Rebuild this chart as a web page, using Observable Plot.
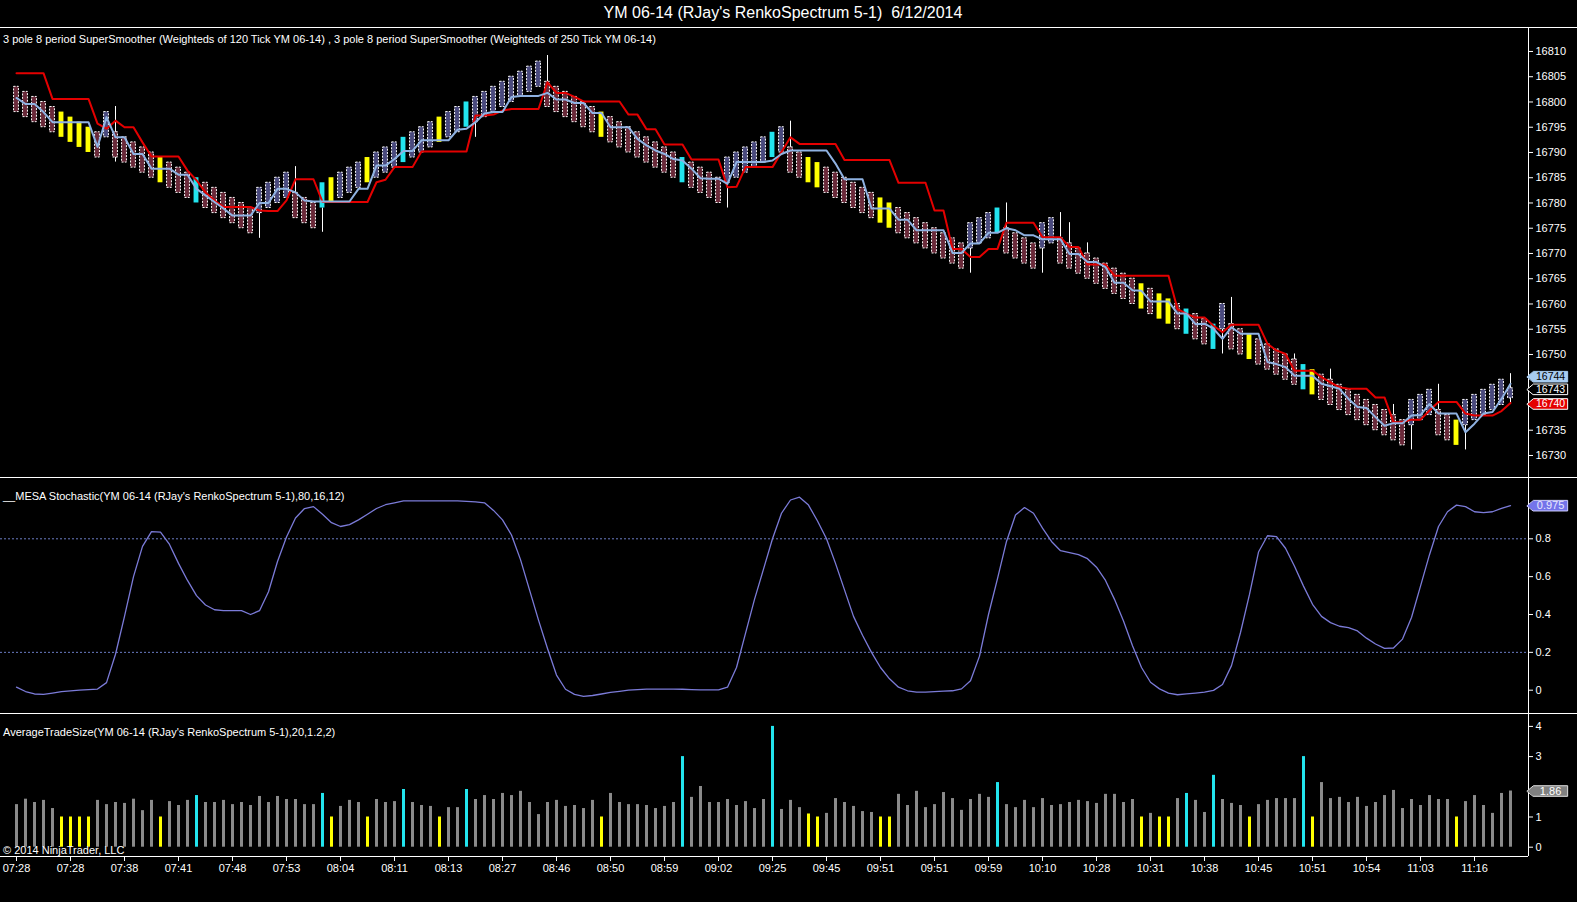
<!DOCTYPE html>
<html><head><meta charset="utf-8">
<script src="https://cdn.jsdelivr.net/npm/d3@7"></script>
<script src="https://cdn.jsdelivr.net/npm/@observablehq/plot@0.6"></script>
<style>
html,body{margin:0;padding:0;background:#000;}
#c{position:relative;width:1577px;height:902px;background:#000;overflow:hidden;font-family:"Liberation Sans",Arial,Helvetica,sans-serif;color:#fff;}
.t{position:absolute;white-space:pre;color:#fff;}
.sep{position:absolute;left:0;width:1577px;height:1px;background:#fff;}
svg{display:block;}
</style></head><body><div id="c"></div>
<script>
// ---------------- DATA ----------------
const chartTitle = "YM 06-14 (RJay's RenkoSpectrum 5-1)  6/12/2014";
const priceLabel = "3 pole 8 period SuperSmoother (Weighteds of 120 Tick YM 06-14) , 3 pole 8 period SuperSmoother (Weighteds of 250 Tick YM 06-14)";
const stochLabel = "__MESA Stochastic(YM 06-14 (RJay's RenkoSpectrum 5-1),80,16,12)";
const tradeLabel = "AverageTradeSize(YM 06-14 (RJay's RenkoSpectrum 5-1),20,1.2,2)";
const copyright = "© 2014 NinjaTrader, LLC";

const timeLabels = ["07:28","07:28","07:38","07:41","07:48","07:53","08:04","08:11","08:13","08:27","08:46","08:50","08:59","09:02","09:25","09:45","09:51","09:51","09:59","10:10","10:28","10:31","10:38","10:45","10:51","10:54","11:03","11:16"];
const tickBars = [0,6,12,18,24,30,36,42,48,54,60,66,72,78,84,90,96,102,108,114,120,126,132,138,144,150,156,162];

// tick labels hidden behind the last-value badges in the original are left out
const priceTicks = [16730,16735,16750,16755,16760,16765,16770,16775,16780,16785,16790,16795,16800,16805,16810];
const stochTicks = [0,0.2,0.4,0.6,0.8];
const stochLevels = [0.2,0.8];
const tradeTicks = [0,1,3,4];

const brickSize = 5;
const lastBrickLow = 16741.3;
const brickTop = [
16803,16802,16801,16800,16799,16798,16797,16796,16795,16794,
16798,16794,16793,16792,16791,16790,16789,16788,16787,16786,
16785,16784,16783,16782,16781,16780,16779,16783,16784,16785,
16786,16782,16781,16780,16784,16785,16786,16787,16788,16789,
16790,16791,16792,16793,16794,16795,16796,16797,16798,16799,
16800,16801,16802,16803,16804,16805,16806,16807,16808,16804,
16803,16802,16801,16800,16799,16798,16797,16796,16795,16794,
16793,16792,16791,16790,16789,16788,16787,16786,16785,16789,
16790,16791,16792,16793,16794,16795,16791,16790,16789,16788,
16787,16786,16785,16784,16783,16782,16781,16780,16779,16778,
16777,16776,16775,16774,16773,16772,16776,16777,16778,16779,
16775,16774,16773,16772,16776,16777,16773,16772,16771,16770,
16769,16768,16767,16766,16765,16764,16763,16762,16761,16760,
16759,16758,16757,16756,16760,16756,16755,16754,16753,16752,
16751,16750,16749,16748,16747,16746,16745,16744,16743,16742,
16741,16740,16739,16738,16737,16741,16742,16743,16739,16738,
16737,16741,16742,16743,16744,16745,16743.3];

// d = down brick, u = up brick, y = low-volume (yellow), c = high-volume (cyan)
const barKind = [
"d","d","d","d","d","y","y","y","y","d",
"u","d","d","d","d","d","y","d","d","d",
"c","d","d","d","d","d","d","u","u","u",
"u","d","d","d","c","y","u","u","u","y",
"u","u","u","c","u","u","u","y","u","u",
"c","u","u","u","u","u","u","u","u","d",
"d","d","d","d","d","y","d","d","d","d",
"d","d","d","d","c","d","d","d","d","u",
"u","u","u","u","c","u","d","d","y","y",
"d","d","d","d","d","d","y","y","d","d",
"d","d","d","d","d","d","u","u","u","c",
"d","d","d","d","u","u","d","d","d","d",
"d","d","d","d","d","y","d","y","y","d",
"c","d","d","c","u","d","d","y","d","d",
"d","d","d","c","y","d","d","d","d","d",
"d","d","d","d","d","u","u","u","d","d",
"y","u","u","u","u","u","u"];

const wickBar  = [11,27,31,34,51,59,79,86,106,110,114,116,117,119,134,135,142,146,153,155,158,161,166];
const wickLow  = [16788.1,16773.0,16782,16774.2,16793,16804,16779,16791,16766.1,16775,16766.1,16773,16772,16770,16750.1,16756,16749,16745,16738,16731.1,16739,16731.1,16740.4];
const wickHigh = [16799.1,16778,16787.2,16779,16796,16809.2,16784,16796.2,16771,16780,16771,16778.1,16776.1,16772.1,16755,16761.3,16750.1,16747.1,16740.1,16736,16744.1,16736,16746.2];

const smoother120 = [
16800.8,16799.6,16799.6,16798.0,16796.0,16796.0,16796.0,16796.0,16796.0,16791.1,
16797.0,16793.0,16793.0,16789.7,16789.7,16786.8,16786.8,16786.8,16785.6,16785.6,
16782.8,16781.5,16780.2,16778.9,16777.5,16777.5,16777.5,16780.0,16780.0,16782.8,
16782.8,16782.1,16780.5,16780.3,16780.3,16780.3,16780.3,16780.3,16782.8,16782.8,
16787.4,16787.4,16788.7,16790.3,16790.3,16792.4,16792.4,16792.4,16792.4,16794.5,
16794.7,16796.0,16797.7,16798.0,16798.0,16801.0,16801.2,16801.2,16801.2,16801.8,
16800.5,16800.5,16799.8,16799.8,16797.8,16797.8,16795.0,16795.0,16795.0,16792.7,
16791.4,16790.4,16789.7,16788.7,16788.4,16786.8,16784.9,16784.8,16784.8,16783.8,
16788.1,16788.1,16788.1,16788.1,16788.4,16789.7,16790.4,16790.4,16790.4,16790.4,
16790.4,16787.8,16784.7,16784.7,16784.7,16778.9,16778.9,16778.9,16776.7,16776.7,
16774.6,16774.6,16774.6,16774.6,16770.1,16770.1,16772.0,16772.0,16774.1,16774.1,
16775.0,16774.6,16773.6,16773.6,16772.8,16772.8,16772.8,16769.9,16769.9,16768.3,
16768.3,16767.3,16764.2,16764.2,16762.7,16762.6,16760.5,16760.5,16760.5,16758.1,
16758.1,16756.0,16756.1,16755.1,16753.1,16755.4,16754.1,16754.1,16754.1,16748.5,
16748.1,16747.5,16745.8,16745.8,16745.8,16744.2,16743.7,16743.2,16741.2,16739.6,
16739.4,16737.6,16735.9,16736.4,16736.4,16737.9,16738.0,16740.2,16738.3,16738.3,
16738.3,16734.6,16736.3,16738.3,16738.6,16741.2,16744.2];

const smoother250 = [
16805.7,16805.7,16805.7,16805.7,16800.6,16800.6,16800.6,16800.6,16800.6,16795.7,
16794.7,16796.3,16795.0,16795.0,16792.0,16789.2,16789.2,16789.2,16789.2,16786.4,
16784.5,16782.1,16780.5,16779.2,16779.2,16779.2,16779.2,16778.5,16778.4,16778.4,
16780.5,16784.7,16784.7,16784.7,16780.2,16780.2,16780.2,16780.2,16780.2,16780.2,
16784.1,16784.6,16787.1,16787.1,16787.1,16790.2,16790.2,16790.2,16790.2,16790.2,
16790.2,16797.3,16797.3,16797.5,16798.3,16798.6,16798.6,16798.6,16798.6,16803.9,
16801.8,16801.8,16801.0,16800.1,16800.1,16800.1,16800.1,16800.1,16797.5,16797.5,
16794.6,16794.6,16791.6,16791.6,16791.6,16788.6,16788.6,16788.6,16788.6,16783.1,
16783.2,16787.1,16787.1,16787.1,16787.1,16790.1,16793.0,16791.7,16791.7,16791.7,
16791.7,16791.7,16788.5,16788.5,16788.5,16788.5,16788.5,16788.5,16784.0,16784.0,
16784.0,16784.0,16778.5,16778.5,16770.9,16770.9,16769.3,16769.3,16770.9,16770.9,
16776.1,16776.1,16776.1,16776.1,16773.2,16773.2,16773.2,16771.3,16771.3,16767.8,
16767.8,16767.8,16765.6,16765.6,16765.6,16765.6,16765.6,16765.6,16765.6,16759.0,
16758.1,16757.3,16757.3,16755.7,16754.4,16755.9,16755.9,16755.9,16755.9,16752.1,
16750.8,16750.1,16746.8,16746.8,16746.8,16745.5,16744.5,16743.5,16743.2,16743.2,
16743.2,16741.5,16741.5,16736.6,16736.6,16737.1,16737.1,16738.9,16740.6,16740.6,
16740.6,16738.3,16737.9,16737.9,16737.9,16738.8,16740.4];

const lastPrice = 16743;

const mesaStoch = [
0.016,-0.007,-0.02,-0.022,-0.015,-0.008,-0.004,0.0,0.003,0.006,
0.04,0.19,0.39,0.60,0.76,0.838,0.835,0.77,0.67,0.58,
0.50,0.45,0.425,0.42,0.42,0.42,0.40,0.42,0.52,0.68,
0.81,0.91,0.96,0.97,0.93,0.885,0.865,0.875,0.90,0.93,
0.96,0.98,0.99,1.0,1.0,1.0,1.0,1.0,1.0,1.0,
0.998,0.995,0.99,0.95,0.90,0.82,0.69,0.53,0.37,0.22,
0.08,0.005,-0.022,-0.033,-0.028,-0.02,-0.012,-0.006,0.0,0.003,
0.006,0.006,0.006,0.006,0.005,0.003,0.002,0.002,0.002,0.016,
0.12,0.30,0.48,0.64,0.80,0.935,1.005,1.02,0.978,0.894,
0.80,0.67,0.53,0.39,0.29,0.20,0.12,0.06,0.016,-0.003,
-0.01,-0.01,-0.007,-0.005,-0.003,0.007,0.05,0.18,0.40,0.59,
0.786,0.926,0.965,0.935,0.856,0.786,0.737,0.727,0.716,0.695,
0.65,0.58,0.48,0.366,0.235,0.12,0.042,0.007,-0.015,-0.024,
-0.019,-0.015,-0.01,-0.001,0.03,0.13,0.305,0.506,0.73,0.816,
0.812,0.75,0.655,0.55,0.454,0.39,0.357,0.338,0.331,0.313,
0.275,0.244,0.221,0.223,0.27,0.384,0.55,0.716,0.865,0.943,
0.978,0.97,0.943,0.938,0.943,0.961,0.975];

const tradeSize = [
1.41,1.59,1.48,1.55,1.28,1.0,1.0,1.0,1.0,1.55,
1.41,1.48,1.45,1.59,1.21,1.55,1.0,1.51,1.38,1.55,
1.71,1.48,1.48,1.55,1.41,1.48,1.38,1.68,1.48,1.68,
1.58,1.58,1.41,1.41,1.78,1.0,1.35,1.55,1.48,1.0,
1.58,1.48,1.51,1.91,1.48,1.38,1.35,1.0,1.31,1.31,
1.91,1.58,1.71,1.58,1.78,1.71,1.85,1.48,1.08,1.48,
1.55,1.35,1.38,1.28,1.55,1.0,1.78,1.48,1.41,1.41,
1.38,1.28,1.35,1.48,3.0,1.65,2.01,1.48,1.48,1.58,
1.38,1.51,1.28,1.58,4.0,1.25,1.55,1.31,1.1,1.0,
1.12,1.61,1.48,1.35,1.18,1.15,1.0,1.0,1.75,1.38,
1.85,1.31,1.41,1.81,1.61,1.22,1.58,1.75,1.65,2.14,
1.41,1.31,1.55,1.31,1.61,1.38,1.41,1.48,1.55,1.51,
1.45,1.75,1.75,1.48,1.58,1.0,1.12,1.0,1.0,1.61,
1.78,1.55,1.15,2.38,1.58,1.45,1.38,1.0,1.41,1.55,
1.61,1.61,1.61,3.0,1.0,2.14,1.61,1.65,1.48,1.65,
1.35,1.48,1.71,1.88,1.28,1.58,1.38,1.71,1.58,1.58,
1.0,1.51,1.71,1.38,1.12,1.78,1.86];

// ---------------- STYLE / LAYOUT ----------------
const W = 1577;
const FONT = '"Liberation Sans", Arial, Helvetica, sans-serif';
const xDomain = [-16/9, 168];          // bar index -> pixel 0..1528
const ML = 0, MR = 49;
const kindFill = {d: "#6a2a3a", u: "#4a4a7e", y: "#ffff00", c: "#22e4ee"};
const tradeColor = {d: "#8a8a8a", u: "#8a8a8a", y: "#ffff00", c: "#22e4ee"};
const baseStyle = {background: "transparent", color: "#fff", fontFamily: FONT, fontSize: "11px", overflow: "visible"};

const root = document.getElementById("c");
function addText(txt, left, top, size, extra) {
  const d = document.createElement("div");
  d.className = "t"; d.textContent = txt;
  d.style.left = left + "px"; d.style.top = top + "px";
  d.style.fontSize = size + "px"; d.style.lineHeight = (size + 2) + "px";
  if (extra) Object.assign(d.style, extra);
  root.appendChild(d);
  return d;
}
function addSep(top) {
  const d = document.createElement("div");
  d.className = "sep"; d.style.top = top + "px"; root.appendChild(d);
}
function addPlot(svg, top) {
  svg.style.position = "absolute"; svg.style.left = "0px"; svg.style.top = top + "px";
  root.appendChild(svg);
}
// badge: pointer + box, in data units
function badgeMarks(v, hy, label, fill, stroke, textFill, fs) {
  const x0 = 167.85, x1 = 168.55, x2 = 172.35;
  const pts = [[x0, v], [x1, v + hy], [x2, v + hy], [x2, v - hy], [x1, v - hy]];
  return [
    Plot.line(pts, {x: d => d[0], y: d => d[1], curve: "linear-closed", fill, stroke, strokeWidth: 1}),
    Plot.text([v], {x: 170.45, y: d => d, text: () => label, fill: textFill, fontSize: fs || 11})
  ];
}

const idx = d3.range(brickTop.length);
const bricks = idx.map(i => ({i, top: brickTop[i], low: i === brickTop.length - 1 ? lastBrickLow : brickTop[i] - brickSize, kind: barKind[i]}));
const wicks = wickBar.map((b, j) => ({i: b, lo: wickLow[j], hi: wickHigh[j]}));

// ---------------- PRICE PANEL ----------------
const pTop = 28, pH = 449;
const pPx = 1/5.05;   // price units per pixel
const nLast = brickTop.length - 1;
const pricePlot = Plot.plot({
  width: W, height: pH, marginLeft: ML, marginRight: MR, marginTop: 0, marginBottom: 0,
  style: baseStyle,
  x: {domain: xDomain, axis: null},
  y: {domain: [16725.64, 16814.55], axis: "right", ticks: priceTicks, tickFormat: d => String(d), tickSize: 4, tickPadding: 3, label: null},
  marks: [
    Plot.ruleX(wicks, {x: "i", y1: "lo", y2: "hi", stroke: "#fff", strokeWidth: 1}),
    Plot.rect(bricks.filter(b => b.kind === "u" || b.kind === "d"), {
      x1: b => b.i - 0.27, x2: b => b.i + 0.27, y1: "low", y2: "top",
      fill: b => kindFill[b.kind], stroke: "#fff", strokeWidth: 1, strokeDasharray: "2,1.3"}),
    Plot.rect(bricks.filter(b => b.kind === "y" || b.kind === "c"), {
      x1: b => b.i - 0.27, x2: b => b.i + 0.27, y1: "low", y2: "top",
      fill: b => kindFill[b.kind]}),
    Plot.line(idx, {x: i => i, y: i => smoother250[i], stroke: "#e40000", strokeWidth: 2}),
    Plot.line(idx, {x: i => i, y: i => smoother120[i], stroke: "#8fb2e2", strokeWidth: 2}),
    Plot.ruleX([xDomain[1]], {stroke: "#fff"}),
    ...badgeMarks(smoother120[nLast] + 1.4, 5.3 * pPx, String(Math.round(smoother120[nLast])), "#a8ccf0", "#a8ccf0", "#000", 10.5),
    ...badgeMarks(lastPrice + 0.1, 5.3 * pPx, String(lastPrice), "#000", "#fff", "#fff", 10.5),
    ...badgeMarks(smoother250[nLast] - 0.2, 5.3 * pPx, String(Math.round(smoother250[nLast])), "#e40000", "#fff", "#fff", 10.5)
  ]
});

// ---------------- STOCHASTIC PANEL ----------------
const sTop = 478, sH = 235;
const sPx = 1/189.25;
const stochPlot = Plot.plot({
  width: W, height: sH, marginLeft: ML, marginRight: MR, marginTop: 0, marginBottom: 0,
  style: baseStyle,
  x: {domain: xDomain, axis: null},
  y: {domain: [-0.1231, 1.1186], axis: "right", ticks: stochTicks, tickFormat: d => String(d), tickSize: 4, tickPadding: 3, label: null},
  marks: [
    Plot.ruleY(stochLevels, {stroke: "#6b7cc4", strokeDasharray: "2,2", strokeWidth: 1}),
    Plot.line(idx, {x: i => i, y: i => mesaStoch[i], stroke: "#7b7bd8", strokeWidth: 1.3}),
    Plot.ruleX([xDomain[1]], {stroke: "#fff"}),
    ...badgeMarks(mesaStoch[nLast], 5.3 * sPx, String(mesaStoch[nLast]), "#7474ea", "#d0d0ff", "#e8e8ff")
  ]
});

// ---------------- TRADE SIZE PANEL ----------------
const tTop = 714, tH = 188, tMB = 46;
const tPx = 1/30.2;
const tickName = new Map(tickBars.map((b, k) => [b, timeLabels[k]]));
const tradePlot = Plot.plot({
  width: W, height: tH, marginLeft: ML, marginRight: MR, marginTop: 0, marginBottom: tMB,
  style: baseStyle,
  x: {domain: xDomain, axis: null},
  y: {domain: [-0.308, 4.394], axis: "right", ticks: tradeTicks, tickFormat: d => String(d), tickSize: 4, tickPadding: 3, label: null},
  marks: [
    Plot.ruleX(idx, {x: i => i, y1: 0, y2: i => tradeSize[i], stroke: i => tradeColor[barKind[i]], strokeWidth: 3}),
    Plot.ruleY([-0.308], {stroke: "#fff"}),
    Plot.ruleX([xDomain[1]], {stroke: "#fff"}),
    Plot.axisX(tickBars, {anchor: "bottom", tickSize: 5, tickPadding: 3, tickFormat: d => tickName.get(d), fontSize: 11, label: null}),
    ...badgeMarks(tradeSize[nLast], 5.3 * tPx, String(tradeSize[nLast]), "#808080", "#e0e0e0", "#fff")
  ]
});

// ---------------- ASSEMBLE ----------------
addText(chartTitle, 0, 4, 16, {width: "1566px", textAlign: "center"});
addSep(27);
addPlot(pricePlot, pTop);
addSep(477);
addPlot(stochPlot, sTop);
addSep(713);
addPlot(tradePlot, tTop);
addText(priceLabel, 3, 33, 11);
addText(stochLabel, 3, 490, 11);
addText(tradeLabel, 3, 726, 11);
addText(copyright, 3, 844, 11);
</script></body></html>
